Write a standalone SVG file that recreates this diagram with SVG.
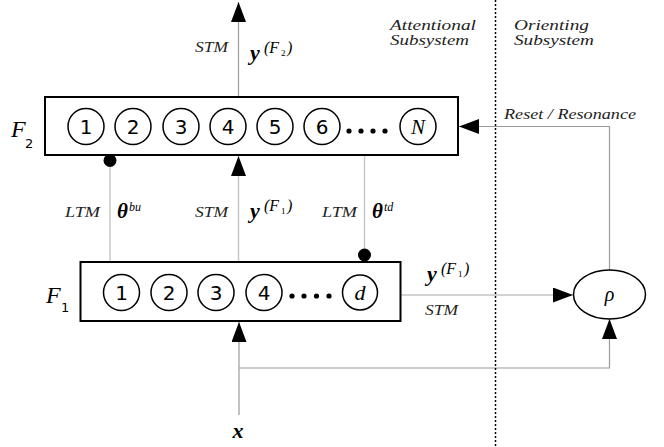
<svg xmlns="http://www.w3.org/2000/svg" width="664" height="447" viewBox="0 0 664 447">
<style>
.box{fill:#fff;stroke:#000;stroke-width:2}
.cell{fill:#fff;stroke:#000;stroke-width:1.5}
.num{font-family:"DejaVu Sans",sans-serif;font-size:20px;text-anchor:middle;fill:#000}
.sub{font-family:"DejaVu Sans",sans-serif;font-size:13px;fill:#000}
.it{font-family:"Liberation Serif","DejaVu Serif",serif;font-style:italic;fill:#000}
.rm{font-family:"Liberation Serif","DejaVu Serif",serif;fill:#000}
.bi{font-family:"Liberation Serif","DejaVu Serif",serif;font-style:italic;font-weight:bold;fill:#000}
.lbl{font-family:"Liberation Serif","DejaVu Serif",serif;font-style:italic;fill:#222}
.ln{fill:none;stroke:#9a9a9a;stroke-width:1.2}
.lt{fill:none;stroke:#c4c4c4;stroke-width:1.4}
.dot{fill:#000}
</style>
<defs>
<marker id="arr" markerUnits="userSpaceOnUse" markerWidth="20" markerHeight="15" refX="20" refY="7.5" orient="auto">
<path d="M0,0 L20,7.5 L0,15 Z" fill="#000"/>
</marker>
</defs>
<rect width="664" height="447" fill="#fff"/>

<g id="connectors">
<line class="ln" x1="238.5" y1="97" x2="238.5" y2="2" marker-end="url(#arr)"/>
<line class="lt" x1="238.5" y1="262" x2="238.5" y2="156" marker-end="url(#arr)"/>
<line class="lt" x1="110" y1="160" x2="110" y2="262"/>
<circle class="dot" cx="110" cy="160.5" r="6.5"/>
<line class="lt" x1="364.5" y1="155" x2="364.5" y2="255"/>
<circle class="dot" cx="364.5" cy="255" r="6.5"/>
<line class="lt" x1="401" y1="295" x2="573" y2="295" marker-end="url(#arr)"/>
<polyline class="ln" points="609.5,270 609.5,126.5 459,126.5" marker-end="url(#arr)"/>
<line class="ln" x1="239" y1="415" x2="239" y2="322" marker-end="url(#arr)"/>
<polyline class="ln" points="239,368 609.5,368 609.5,319" marker-end="url(#arr)"/>
<line x1="495.5" y1="0" x2="495.5" y2="447" stroke="#000" stroke-width="1.5" stroke-dasharray="2,2"/>
</g>

<g id="labels">
<text class="lbl" x="195" y="52" style="font-size:15px" textLength="33" lengthAdjust="spacingAndGlyphs">STM</text>
<text class="bi" x="250" y="60" style="font-size:22px">y</text>
<text class="it" x="264" y="53" style="font-size:16px">(F</text>
<text class="rm" x="281" y="56" style="font-size:9px">2</text>
<text class="it" x="287" y="53" style="font-size:16px">)</text>

<text class="lbl" x="65" y="217" style="font-size:15px" textLength="35" lengthAdjust="spacingAndGlyphs">LTM</text>
<text class="bi" x="117" y="218" style="font-size:21px">θ</text>
<text class="it" x="129" y="211" style="font-size:12px">bu</text>

<text class="lbl" x="195" y="217" style="font-size:15px" textLength="33" lengthAdjust="spacingAndGlyphs">STM</text>
<text class="bi" x="250" y="218" style="font-size:22px">y</text>
<text class="it" x="264" y="211" style="font-size:16px">(F</text>
<text class="rm" x="281" y="214" style="font-size:9px">1</text>
<text class="it" x="287" y="211" style="font-size:16px">)</text>

<text class="lbl" x="322" y="217" style="font-size:15px" textLength="35" lengthAdjust="spacingAndGlyphs">LTM</text>
<text class="bi" x="372" y="218" style="font-size:21px">θ</text>
<text class="it" x="384" y="211" style="font-size:12px">td</text>

<text class="bi" x="427" y="281" style="font-size:22px">y</text>
<text class="it" x="441" y="274" style="font-size:16px">(F</text>
<text class="rm" x="458" y="277" style="font-size:9px">1</text>
<text class="it" x="464" y="274" style="font-size:16px">)</text>
<text class="lbl" x="425" y="315" style="font-size:15px" textLength="33" lengthAdjust="spacingAndGlyphs">STM</text>

<text class="lbl" x="390" y="30" style="font-size:15px" textLength="86" lengthAdjust="spacingAndGlyphs">Attentional</text>
<text class="lbl" x="390" y="45" style="font-size:15px" textLength="79" lengthAdjust="spacingAndGlyphs">Subsystem</text>
<text class="lbl" x="514" y="30" style="font-size:15px" textLength="75" lengthAdjust="spacingAndGlyphs">Orienting</text>
<text class="lbl" x="514" y="45" style="font-size:15px" textLength="80" lengthAdjust="spacingAndGlyphs">Subsystem</text>
<text class="lbl" x="504" y="119" style="font-size:15px" textLength="132" lengthAdjust="spacingAndGlyphs">Reset / Resonance</text>

<text class="bi" x="238" y="438" style="font-size:22px" text-anchor="middle">x</text>
</g>

<g id="F2">
<rect class="box" x="45" y="97" width="413" height="58"/>
<text class="it" x="11" y="137" style="font-size:24px">F</text>
<text class="sub" x="25" y="148">2</text>
<circle class="cell" cx="86" cy="126.5" r="18"/><text class="num" x="86" y="133.5">1</text>
<circle class="cell" cx="133" cy="126.5" r="18"/><text class="num" x="133" y="133.5">2</text>
<circle class="cell" cx="181" cy="126.5" r="18"/><text class="num" x="181" y="133.5">3</text>
<circle class="cell" cx="228" cy="126.5" r="18"/><text class="num" x="228" y="133.5">4</text>
<circle class="cell" cx="275" cy="126.5" r="18"/><text class="num" x="275" y="133.5">5</text>
<circle class="cell" cx="322" cy="126.5" r="18"/><text class="num" x="322" y="133.5">6</text>
<circle class="dot" cx="349" cy="131" r="2.6"/>
<circle class="dot" cx="361" cy="131" r="2.6"/>
<circle class="dot" cx="373" cy="131" r="2.6"/>
<circle class="dot" cx="385" cy="131" r="2.6"/>
<circle class="cell" cx="418" cy="126.5" r="18"/><text class="it" x="418" y="133.5" style="font-size:21px" text-anchor="middle">N</text>
</g>

<g id="F1">
<rect class="box" x="80.5" y="262" width="320" height="59"/>
<text class="it" x="46" y="303" style="font-size:24px">F</text>
<text class="sub" x="61" y="312">1</text>
<circle class="cell" cx="121.5" cy="292.5" r="18"/><text class="num" x="121.5" y="299.5">1</text>
<circle class="cell" cx="169" cy="292.5" r="18"/><text class="num" x="169" y="299.5">2</text>
<circle class="cell" cx="216" cy="292.5" r="18"/><text class="num" x="216" y="299.5">3</text>
<circle class="cell" cx="264" cy="292.5" r="18"/><text class="num" x="264" y="299.5">4</text>
<circle class="dot" cx="292" cy="296" r="2.6"/>
<circle class="dot" cx="304" cy="296" r="2.6"/>
<circle class="dot" cx="316.5" cy="296" r="2.6"/>
<circle class="dot" cx="329" cy="296" r="2.6"/>
<circle class="cell" cx="360" cy="292.5" r="17.5"/><text class="it" x="360" y="300" style="font-size:22px" text-anchor="middle">d</text>
</g>

<g id="rho">
<ellipse class="cell" cx="609.5" cy="294.5" rx="36" ry="24.5"/>
<text class="it" x="609.5" y="301" style="font-size:20px" text-anchor="middle">ρ</text>
</g>
</svg>
